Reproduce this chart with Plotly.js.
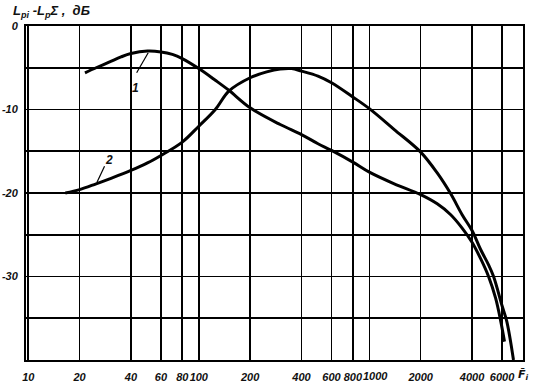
<!DOCTYPE html>
<html>
<head>
<meta charset="utf-8">
<script src="https://cdn.plot.ly/plotly-3.0.1.min.js"></script>
<style>html,body{margin:0;padding:0;background:#fff;}#chart{width:535px;height:390px;}</style>
</head>
<body>
<div id="chart"></div>
<script>
// Curve 1
const freq1 = [21.5, 25, 30, 35, 40, 50, 60, 70, 80, 100, 125, 150, 200, 300, 400, 500, 600, 800, 1000, 1400, 2000, 2500, 3000, 3500, 4000, 4500, 5000, 5500, 5900, 6200];
const level1 = [-5.6, -5.0, -4.3, -3.7, -3.3, -3.0, -3.1, -3.4, -3.9, -5.1, -6.5, -7.7, -9.8, -11.8, -13.0, -14.1, -14.9, -16.3, -17.5, -18.9, -20.2, -21.3, -22.6, -24.2, -25.9, -27.9, -30.0, -32.6, -35.4, -37.8];
// Curve 2
const freq2 = [16.5, 20, 25, 30, 40, 50, 60, 80, 100, 125, 150, 200, 250, 300, 350, 400, 500, 600, 800, 1000, 1400, 2000, 2500, 3000, 3500, 4000, 4500, 5000, 5350, 6000, 6400, 7000];
const level2 = [-20.0, -19.6, -18.9, -18.3, -17.3, -16.4, -15.5, -13.9, -12.0, -10.0, -7.8, -6.2, -5.5, -5.15, -5.1, -5.4, -6.0, -6.8, -8.5, -9.9, -12.4, -15.1, -17.6, -20.1, -22.6, -24.5, -26.8, -28.6, -30.0, -33.5, -35.4, -40.0];
// Leader lines for labels
const lead1F = [50.5, 43.2], lead1L = [-3.2, -5.6];
const lead2F = [28.0, 25.3], lead2L = [-16.8, -18.7];

const xTicks = [10, 20, 40, 60, 80, 100, 200, 400, 600, 800, 1000, 2000, 4000, 6000];
const xTickText = ['10', '20', '40', '60', '80', '100', '200', '400', '600', '800', '', '2000', '4000', '6000'];
const xShiftedTick = 1000, xShiftedText = '1000';
const yTicks = [0, -5, -10, -15, -20, -25, -30, -35];
const yTickText = ['0', '', '-10', '', '-20', '', '-30', ''];

const fam = 'Liberation Sans, Arial, sans-serif';
const fnt = {family: fam, size: 11, color: '#111', style: 'italic', weight: 'bold'};

const traces = [
  {x: freq1, y: level1, mode: 'lines', line: {color: '#000', width: 3, shape: 'spline'}, hoverinfo: 'skip'},
  {x: freq2, y: level2, mode: 'lines', line: {color: '#000', width: 3, shape: 'spline'}, hoverinfo: 'skip'},
  {x: lead1F, y: lead1L, mode: 'lines', line: {color: '#000', width: 1.2}, hoverinfo: 'skip'},
  {x: lead2F, y: lead2L, mode: 'lines', line: {color: '#000', width: 1.2}, hoverinfo: 'skip'}
];

const layout = {
  width: 535, height: 390,
  margin: {l: 26, r: 12, t: 26, b: 30},
  paper_bgcolor: '#fff', plot_bgcolor: '#fff',
  showlegend: false,
  xaxis: {
    type: 'log', range: [Math.log10(9.7), Math.log10(7960)],
    tickvals: xTicks, ticktext: xTickText, ticks: '', tickangle: 0,
    showgrid: true, gridcolor: '#000', gridwidth: 1.6,
    showline: true, mirror: true, linecolor: '#000', linewidth: 2,
    zeroline: false, tickfont: fnt, ticklabelstandoff: 6
  },
  yaxis: {
    range: [-40, 0],
    tickvals: yTicks, ticktext: yTickText, ticks: '',
    showgrid: true, gridcolor: '#000', gridwidth: 1.6,
    showline: true, mirror: true, linecolor: '#000', linewidth: 2,
    zeroline: false, tickfont: fnt, ticklabelstandoff: 4
  },
  annotations: [
    {xref: 'paper', yref: 'paper', x: 0.0, y: 1.0, xanchor: 'left', yanchor: 'bottom', xshift: -15, yshift: 4,
     text: 'L<sub>pi</sub> -L<sub>p</sub>Σ ,  дБ', showarrow: false,
     font: {family: fam, size: 13, color: '#111', style: 'italic', weight: 'bold'}},
    {x: Math.log10(xShiftedTick), xref: 'x', yref: 'paper', y: 0, xanchor: 'center', yanchor: 'top', xshift: 6, yshift: -8,
     text: xShiftedText, showarrow: false, font: fnt},
    {xref: 'paper', yref: 'paper', x: 1.0, y: 0, xanchor: 'center', yanchor: 'top', xshift: 0, yshift: -6,
     text: 'F\u0304<sub>i</sub>', showarrow: false, font: {family: 'DejaVu Sans, sans-serif', size: 11, color: '#111', style: 'italic', weight: 'bold'}},
    {x: Math.log10(42.6), y: -7.4, text: '1', showarrow: false, font: {family: fam, size: 12, color: '#111', style: 'italic', weight: 'bold'}},
    {x: Math.log10(29.6), y: -16.0, text: '2', showarrow: false, font: {family: fam, size: 12, color: '#111', style: 'italic', weight: 'bold'}}
  ]
};

Plotly.newPlot('chart', traces, layout, {staticPlot: true, displayModeBar: false});
</script>
</body>
</html>
